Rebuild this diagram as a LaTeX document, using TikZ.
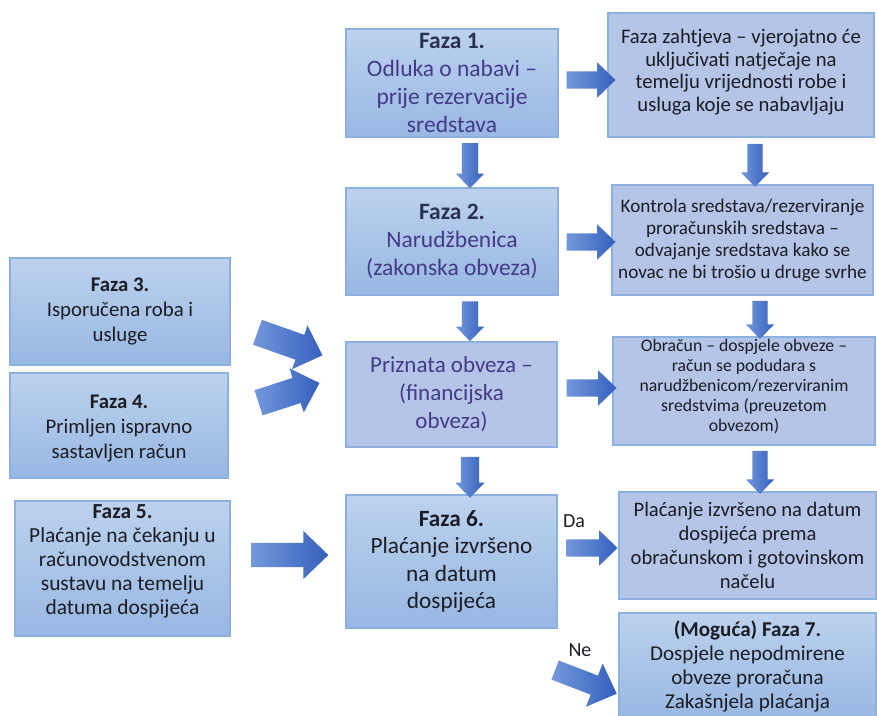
\documentclass[tikz,border=0pt]{standalone}
\usepackage{fontspec}
\setmainfont{Carlito}
\usetikzlibrary{shapes.arrows,calc}

\definecolor{boxtop}{HTML}{BCD2EE}
\definecolor{boxbot}{HTML}{98B7E2}
\definecolor{boxflat}{HTML}{B4C5E7}
\definecolor{boxedge}{HTML}{8CB0E0}
\definecolor{arrlight}{HTML}{7498DA}
\definecolor{arrdark}{HTML}{3560BE}
\definecolor{inkpurple}{HTML}{45398A}
\definecolor{inknavy}{HTML}{2B3150}
\definecolor{ink}{HTML}{1C1C24}

\tikzset{
  panel/.style={draw=boxedge, line width=1.3pt, align=center, inner sep=0pt, text=ink},
  gradpanel/.style={panel, top color=boxtop, bottom color=boxbot},
  flatpanel/.style={panel, fill=boxflat},
  paneltext/.style={align=center, inner sep=0pt, text=ink},
  % #1 total length, #2 half shaft width, #3 head overhang
  blockarrow/.style n args={3}{single arrow, draw=none, inner xsep=0pt,
    inner ysep=#2, single arrow head extend=#3, minimum height=#1,
    minimum width=0pt, single arrow tip angle=88,
    left color=arrlight, right color=arrdark},
  tag/.style={font=\fontsize{20}{24}\selectfont, text=ink, inner sep=0pt},
}

\begin{document}
\begin{tikzpicture}[x=1pt, y=-1pt]
\useasboundingbox (0,0) rectangle (877,715);
\fill[white] (0,0) rectangle (877,715);

% centre column
\node[gradpanel, minimum width=212pt, minimum height=108pt, text=inkpurple,
      font=\fontsize{23.5}{28}\selectfont] (f1) at (452,83)
  {\textcolor{inknavy}{\bfseries Faza 1.}\\Odluka o nabavi –\\prije rezervacije\\sredstava};
\node[gradpanel, minimum width=212pt, minimum height=107pt, text=inkpurple,
      font=\fontsize{23.5}{28}\selectfont] (f2) at (452,241.5)
  {\textcolor{inknavy}{\bfseries Faza 2.}\\Narudžbenica\\(zakonska obveza)};
\node[flatpanel, minimum width=211pt, minimum height=105pt, text=inkpurple,
      font=\fontsize{23}{28}\selectfont] (pr) at (451.5,394.5)
  {Priznata obveza –\\(financijska\\obveza)};
\node[gradpanel, minimum width=211pt, minimum height=133pt,
      font=\fontsize{23.3}{27.5}\selectfont] (f6) at (451.5,561.5)
  {\textbf{Faza 6.}\\Plaćanje izvršeno\\na datum\\dospijeća};

% right column
\node[flatpanel, minimum width=266pt, minimum height=124pt] (r1) at (741,75) {};
\node[paneltext, font=\fontsize{20.7}{22.5}\selectfont]
  (r1t) at ($(r1.center)+(0,-3)$)
  {Faza zahtjeva – vjerojatno će\\uključivati natječaje na\\temelju vrijednosti robe i\\usluga koje se nabavljaju};
\node[flatpanel, minimum width=261pt, minimum height=110pt,
      font=\fontsize{19.2}{22}\selectfont] (r2) at (742.5,240)
  {Kontrola sredstava/rezerviranje\\proračunskih sredstava –\\odvajanje sredstava kako se\\novac ne bi trošio u druge svrhe};
\node[flatpanel, minimum width=262pt, minimum height=108pt] (r3) at (744,391) {};
\node[paneltext, font=\fontsize{17.7}{20}\selectfont]
  (r3t) at ($(r3.center)+(0,-4)$)
  {Obračun – dospjele obveze –\\račun se podudara s\\narudžbenicom/rezerviranim\\sredstvima (preuzetom\\obvezom)};
\node[flatpanel, minimum width=257pt, minimum height=107pt,
      font=\fontsize{20.6}{24}\selectfont] (r4) at (747.5,545.5)
  {Plaćanje izvršeno na datum\\dospijeća prema\\obračunskom i gotovinskom\\načelu};
\node[gradpanel, minimum width=257pt, minimum height=107pt,
      font=\fontsize{21.1}{24}\selectfont] (r5) at (747.5,666.5)
  {\textbf{(Moguća) Faza 7.}\\Dospjele nepodmirene\\obveze proračuna\\Zakašnjela plaćanja};

% left column
\node[gradpanel, minimum width=220pt, minimum height=107pt,
      font=\fontsize{20.8}{25}\selectfont] (l3) at (120,311.5)
  {\textbf{Faza 3.}\\Isporučena roba i\\usluge};
\node[gradpanel, minimum width=218pt, minimum height=105pt] (l4) at (119,425.5) {};
\node[paneltext, font=\fontsize{20.8}{25}\selectfont]
  (l4t) at ($(l4.center)+(0,3)$)
  {\textbf{Faza 4.}\\Primljen ispravno\\sastavljen račun};
\node[gradpanel, minimum width=215pt, minimum height=135pt] (l5) at (122.5,568.5) {};
\node[paneltext, font=\fontsize{21.4}{24}\selectfont]
  (l5t) at ($(l5.center)+(0,-7)$)
  {\textbf{Faza 5.}\\Plaćanje na čekanju u\\računovodstvenom\\sustavu na temelju\\datuma dospijeća};

% downward block arrows
\node[blockarrow={45pt}{8pt}{6pt}, rotate=-90] (d1) at (470,161.5) {};
\node[blockarrow={40pt}{8pt}{6pt}, rotate=-90] (d2) at (470,317) {};
\node[blockarrow={41pt}{9pt}{5.5pt}, rotate=-90] (d3) at (470,472.5) {};
\node[blockarrow={43pt}{7.5pt}{6.5pt}, rotate=-90] (e1) at (755,161.5) {};
\node[blockarrow={38pt}{7.5pt}{6.5pt}, rotate=-90] (e2) at (760,316) {};
\node[blockarrow={43pt}{7.5pt}{6.5pt}, rotate=-90] (e3) at (760,468.5) {};

% rightward block arrows
\node[blockarrow={49pt}{8.5pt}{9pt}] (h1) at (586.5,80) {};
\node[blockarrow={49pt}{8.5pt}{9pt}] (h2) at (586.5,242) {};
\node[blockarrow={50pt}{8.5pt}{9pt}] (h3) at (587,388) {};
\node[blockarrow={51pt}{8.5pt}{9pt}] (hy) at (587.5,548) {};
\node[blockarrow={77pt}{12pt}{12pt}] (h5) at (283.5,555) {};
\node[blockarrow={69pt}{13pt}{10pt}, rotate=-19.5] (a3) at (283.5,341.5) {};
\node[blockarrow={64pt}{13pt}{10pt}, rotate=18] (a4) at (282.5,395) {};
\node[blockarrow={66pt}{10pt}{13pt}, rotate=-21] (hn) at (581,680) {};

% branch labels
\node[tag] (da) at (574,521) {Da};
\node[tag] (ne) at (580,650) {Ne};
\end{tikzpicture}
\end{document}
